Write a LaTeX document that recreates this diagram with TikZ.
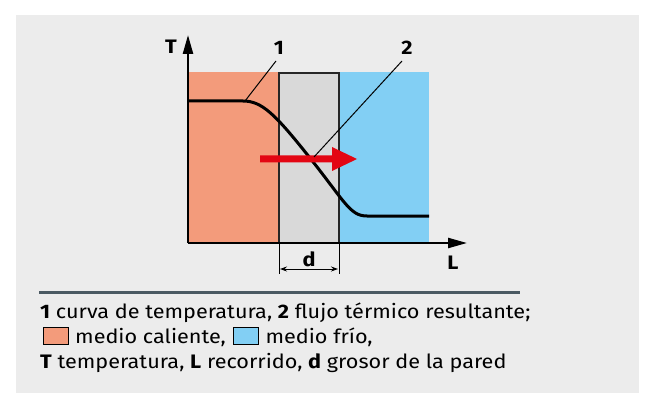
\documentclass[tikz,border=0pt]{standalone}
\usepackage{fontspec}
\setmainfont[FakeStretch=1.11]{Fira Sans}
\usetikzlibrary{arrows.meta}
\definecolor{bg}{HTML}{ECECEC}
\definecolor{hot}{HTML}{F39B7B}
\definecolor{cold}{HTML}{82CFF4}
\definecolor{wall}{HTML}{D9D9D9}
\definecolor{flow}{HTML}{E30613}
\definecolor{sep}{HTML}{4B5A63}
\tikzset{
  lbl/.style={font=\fontsize{19.5}{22}\selectfont\bfseries, inner sep=0pt},
  legtext/.style={font=\fontsize{19.5}{22}\selectfont, inner sep=0pt, anchor=base west},
  axis/.style={line width=2.4pt, -{Triangle[length=19pt,width=10pt]}},
  leader/.style={line width=1pt},
  curve/.style={line width=3pt},
  swatch/.style={draw=black, line width=1.3pt, minimum width=25pt, minimum height=17pt, inner sep=0pt},
  dim/.style={line width=0.9pt}
}
\begin{document}
\begin{tikzpicture}[x=1pt,y=-1pt]
\useasboundingbox (0,0) rectangle (651,393);
\fill[white] (0,0) rectangle (651,393);
\fill[bg] (16,15) rectangle (639,393);
% media
\fill[hot] (188,72) rectangle (280,243);
\fill[cold] (338,72) rectangle (429,243);
\filldraw[fill=wall, draw=black!85, line width=1.4pt] (279,73) rectangle (339,243);
% dimension
\coordinate (dl) at (279,243);
\coordinate (dr) at (339,243);
\coordinate (dlb) at (279,274);
\coordinate (drb) at (339,274);
\draw[dim] (dl) -- (dlb);
\draw[dim] (dr) -- (drb);
\coordinate (dal) at (280,269);
\coordinate (dar) at (338,269);
\draw[dim, {Stealth[length=7pt,width=5pt]}-{Stealth[length=7pt,width=5pt]}] (dal) -- (dar);
\node[lbl] (d) at (309,259) {d};
% axes
\coordinate (O) at (188,243);
\coordinate (Ttip) at (188,35);
\coordinate (Ltip) at (467,243);
\draw[axis] (O) -- (Ttip);
\draw[axis] (O) -- (Ltip);
\node[lbl] (T) at (171,47) {T};
\node[lbl] (L) at (453,263) {L};
% temperature curve
\coordinate (c0) at (188,101);
\coordinate (c1) at (243,101);
\coordinate (c2) at (310,158);
\coordinate (c3) at (367,216);
\coordinate (c4) at (429,216);
\draw[curve] (c0) -- (c1) .. controls (262,101) and (275,114) .. (c2)
  .. controls (345,202) and (350,216) .. (c3) -- (c4);
% heat flow arrow
\fill[flow] (260,155.5) -- (332,155.5) -- (332,147) -- (357,159) -- (332,171) -- (332,162.5) -- (260,162.5) -- cycle;
% labels with leaders
\node[lbl] (n1) at (279,48) {1};
\node[lbl] (n2) at (407,48) {2};
\coordinate (p1) at (245,101);
\coordinate (p2) at (314,157);
\draw[leader] (276,61) -- (p1);
\draw[leader] (402,61) -- (p2);
% legend
\coordinate (s0) at (39,292);
\coordinate (s1) at (520,292);
\draw[sep, line width=3pt] (s0) -- (s1);
\node[legtext] (l1) at (40,318) {\textbf{1} curva de temperatura, \textbf{2} flujo térmico resultante;};
\node[swatch, fill=hot, anchor=south west] (sw1) at (43,345) {};
\node[legtext] (l2a) at (75,343) {medio caliente,};
\node[swatch, fill=cold, anchor=south west] (sw2) at ([xshift=7pt]l2a.base east |- sw1.south) {};
\node[legtext] (l2b) at ([xshift=6pt]sw2.south east |- l2a.base) {medio frío,};
\node[legtext] (l3) at (40,368) {\textbf{T} temperatura, \textbf{L} recorrido, \textbf{d} grosor de la pared};
\end{tikzpicture}
\end{document}
